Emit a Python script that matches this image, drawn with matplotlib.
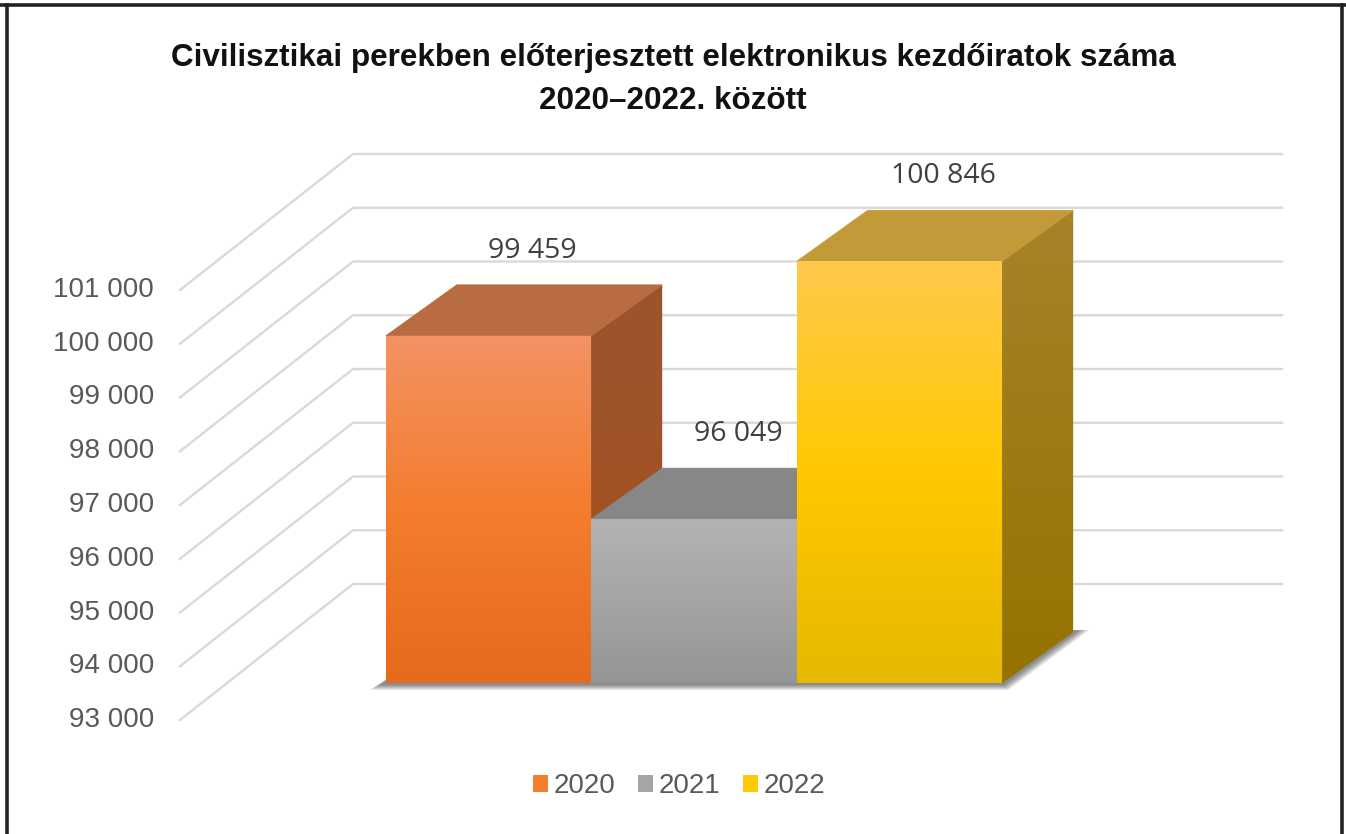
import numpy as np
import matplotlib

matplotlib.use("Agg")

import matplotlib.pyplot as plt
from matplotlib.colors import LinearSegmentedColormap
from matplotlib.lines import Line2D
from matplotlib.patches import Patch, Polygon


years = ["2020", "2021", "2022"]
counts = [99459, 96049, 100846]
count_labels = ["99 459", "96 049", "100 846"]
tick_values = [93000, 94000, 95000, 96000, 97000, 98000, 99000, 100000, 101000]
tick_labels = ["93 000", "94 000", "95 000", "96 000", "97 000",
               "98 000", "99 000", "100 000", "101 000"]

TITLE_1 = "Civilisztikai perekben előterjesztett elektronikus kezdőiratok száma"
TITLE_2 = "2020–2022. között"

# colours per bar: front gradient (bottom -> top), top face, side gradient
FRONT_COLORS = [
    ["#E66A1C", "#F47D2E", "#F39263"],
    ["#959595", "#A5A5A5", "#B3B3B3"],
    ["#E6B800", "#FFC800", "#FFC94C"],
]
TOP_COLORS = ["#B96B42", "#878787", "#C39A38"]
SIDE_COLORS = [
    ["#A5501A", "#9C5530"],
    ["#6E6E6E", "#7C7C7C"],
    ["#957300", "#A78329"],
]
GRID_COLOR = "#D9D9D9"
TICK_COLOR = "#595959"
LABEL_COLOR = "#404040"

W, H, DPI = 1346, 834, 100

# pixel scale of the oblique drawing
PX_CAT = 205.5      # pixels per category
PX_K = 53.75        # pixels per 1000 cases
ORIGIN_X = 441.4    # pixel x of category 0 on the label plane
ORIGIN_Y = 720.0    # pixel y of the base value on the label plane
BASE = tick_values[0]


def dx(px):
    return px / PX_CAT


def dy(px):
    return px / PX_K * 1000


WALL_DX, WALL_DY = dx(173), dy(136)
BAR_FRONT = 0.272
BAR_DX, BAR_DY = dx(71), dy(51)
WALL_LEFT = dx(180 - ORIGIN_X)
WALL_RIGHT = dx(1109 - ORIGIN_X)


def gradient_face(axis, verts, colors, zorder):
    poly = Polygon(verts, closed=True, facecolor=colors[len(colors) // 2],
                   edgecolor="none", zorder=zorder)
    axis.add_patch(poly)
    xs = [p[0] for p in verts]
    ys = [p[1] for p in verts]
    cmap = LinearSegmentedColormap.from_list("face", colors)
    grad = np.linspace(0, 1, 256).reshape(-1, 1)
    image = axis.imshow(
        grad, cmap=cmap, origin="lower", aspect="auto",
        extent=(min(xs), max(xs), min(ys), max(ys)),
        interpolation="bilinear", zorder=zorder + 0.1,
    )
    image.set_clip_path(poly)


figure = plt.figure(figsize=(W / DPI, H / DPI), dpi=DPI)
figure.patch.set_facecolor("white")
axis = figure.add_axes([0, 0, 1, 1])
axis.set_axis_off()

# walls: diagonal side-wall lines and horizontal back-wall lines
for value in tick_values:
    axis.plot(
        [WALL_LEFT, WALL_LEFT + WALL_DX, WALL_RIGHT + WALL_DX],
        [value, value + WALL_DY, value + WALL_DY],
        color=GRID_COLOR, linewidth=1.7, zorder=1,
    )

for value, label in zip(tick_values, tick_labels):
    axis.text(
        WALL_LEFT - dx(26), value, label,
        ha="right", va="center", fontsize=20,
        family="Liberation Sans", color=TICK_COLOR,
    )

fx, fy = BAR_FRONT * WALL_DX, BAR_FRONT * WALL_DY
n = len(counts)

# soft shadow under the bars
left, right = -0.5 + fx, n - 0.5 + fx
floor = BASE + fy
for k in range(6):
    e = 2.0 * k
    shadow = [
        (left - dx(6 + e), floor - dy(2 + e * 0.5)),
        (right + dx(2 + e * 0.4), floor - dy(2 + e * 0.5)),
        (right + BAR_DX + dx(6 + e), floor + BAR_DY + dy(2)),
        (left + BAR_DX, floor + BAR_DY),
    ]
    axis.add_patch(Polygon(shadow, closed=True, facecolor="#202020",
                           edgecolor="none", alpha=0.11, zorder=2))

for i, value in enumerate(counts):
    x0, x1 = i - 0.5 + fx, i + 0.5 + fx
    y0, y1 = BASE + fy, value + fy
    z = 3 + i
    side = [(x1, y0), (x1 + BAR_DX, y0 + BAR_DY),
            (x1 + BAR_DX, y1 + BAR_DY), (x1, y1)]
    gradient_face(axis, side, SIDE_COLORS[i], z)
    top = [(x0, y1), (x1, y1), (x1 + BAR_DX, y1 + BAR_DY),
           (x0 + BAR_DX, y1 + BAR_DY)]
    axis.add_patch(Polygon(top, closed=True, facecolor=TOP_COLORS[i],
                           edgecolor=TOP_COLORS[i], linewidth=0.5,
                           zorder=z + 0.3))
    front = [(x0, y0), (x1, y0), (x1, y1), (x0, y1)]
    gradient_face(axis, front, FRONT_COLORS[i], z + 0.5)

    axis.text(
        i + fx + dx(44), value + fy + BAR_DY + dy(34), count_labels[i],
        ha="center", va="center", fontsize=20.5,
        family="Open Sans", color=LABEL_COLOR, zorder=10,
    )

axis.set_xlim(dx(-ORIGIN_X), dx(W - ORIGIN_X))
axis.set_ylim(BASE - dy(H - ORIGIN_Y), BASE + dy(ORIGIN_Y))

# title
figure.text(0.5, 1 - 58 / H, TITLE_1, ha="center", va="center",
            fontsize=22.6, fontweight="bold", family="Liberation Sans",
            color="#111111")
figure.text(0.5, 1 - 101 / H, TITLE_2, ha="center", va="center",
            fontsize=22.6, fontweight="bold", family="Liberation Sans",
            color="#111111")

# legend
handles = [Patch(facecolor=FRONT_COLORS[i][1], edgecolor="none")
           for i in range(n)]
legend = axis.legend(
    handles, years, loc="center", ncol=3, frameon=False,
    bbox_to_anchor=(679 / W, 1 - 786 / H),
    bbox_transform=figure.transFigure,
    prop={"family": "Liberation Sans", "size": 20},
    handlelength=0.55, handleheight=0.55, handletextpad=0.2,
    columnspacing=0.8,
)
for text in legend.get_texts():
    text.set_color(TICK_COLOR)

# frame around the picture
frame = dict(color="#222222", linewidth=2.6, transform=figure.transFigure)
figure.add_artist(Line2D([0, 1], [1 - 4.5 / H, 1 - 4.5 / H], **frame))
figure.add_artist(Line2D([7 / W, 7 / W], [0, 1 - 4.5 / H], **frame))
figure.add_artist(Line2D([1 - 4 / W, 1 - 4 / W], [0, 1 - 4.5 / H], **frame))

figure.savefig("out.png", dpi=DPI, facecolor="white")
plt.close(figure)
